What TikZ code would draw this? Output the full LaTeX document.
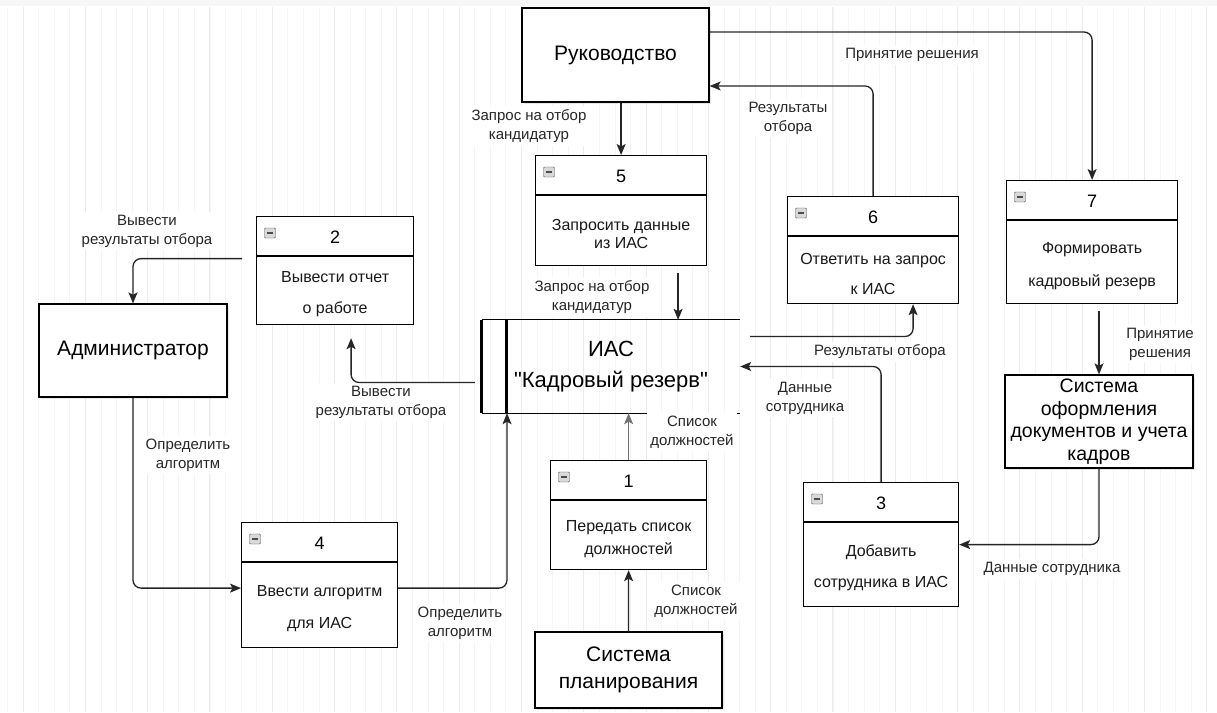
\documentclass[tikz,border=0pt]{standalone}
\usepackage{fontspec}
\setmainfont{Liberation Sans}
\newfontfamily\qfont{Liberation Sans}
\usetikzlibrary{arrows.meta, shadows}

\tikzset{
  flow/.style={draw=black!85, line width=1.3pt, rounded corners=8pt,
    -{Stealth[length=11pt, width=9pt, inset=2.5pt]}},
  lbl/.style={fill=white, align=center, inner sep=3pt, text=black!85,
    font=\fontsize{15}{19}\selectfont},
  ext/.style={draw, line width=1.3pt, fill=white, align=center,
    drop shadow={shadow xshift=2pt, shadow yshift=-2pt, fill=black!25, opacity=0.35}},
  proc/.style={draw, line width=1.2pt, fill=white, anchor=north west, inner sep=0pt},
  proctext/.style={align=center, font=\fontsize{16}{18}\selectfont, text=black!90},
  icon/.style={draw=gray!60!black, fill=gray!30, rounded corners=1pt, inner sep=0pt,
    minimum width=11pt, minimum height=10pt,
    path picture={\draw[line width=1.2pt] ([xshift=2.5pt]path picture bounding box.west)
      -- ([xshift=-2.5pt]path picture bounding box.east);}},
}

\begin{document}
\begin{tikzpicture}[x=1pt, y=-1pt]
  \useasboundingbox (0,0) rectangle (1217,712);
  % background grid
  \fill[white] (0,0) rectangle (1217,712);
  \fill[gray!6] (0,0) rectangle (1217,6);
  \draw[gray!8, line width=0.7pt, shift={(23,24)}, step=15.575] (-16,-17) grid (1194,688);
  \draw[gray!16, line width=0.9pt, shift={(23,24)}, step=62.3] (-16,-17) grid (1194,688);

  % external entities
  \node[ext, minimum width=187pt, minimum height=94pt, font=\fontsize{21}{24}\selectfont]
    (ruk) at (615.5,55) {Руководство};
  \node[ext, minimum width=188pt, minimum height=93pt, font=\fontsize{21}{24}\selectfont]
    (adm) at (133,350.5) {Администратор};
  \node[ext, minimum width=188pt, minimum height=93pt, font=\fontsize{19.5}{22.5}\selectfont]
    (sys) at (1099,421.5) {Система\\оформления\\документов и учета\\кадров};
  \node[ext, minimum width=187pt, minimum height=76pt, font=\fontsize{21}{27}\selectfont]
    (plan) at (628.5,670) {Система\\планирования};

  % data store
  \node[minimum width=258pt, minimum height=93pt, align=center,
        font=\fontsize{22}{24}\selectfont] (ias) at (611,366.5)
        {ИАС\\[7pt]{\qfont"}Кадровый резерв{\qfont"}};
  \draw[line width=1.3pt] (ias.north west) -- (ias.north east);
  \draw[line width=1.3pt] (ias.south west) -- (ias.south east);
  \draw[line width=3pt] (ias.north west) -- (ias.south west);
  \draw[line width=3pt] ([xshift=25pt]ias.north west) -- ([xshift=25pt]ias.south west);

  % processes
  \foreach \nm/\x/\y/\w/\h/\num/\txt in {
      b5/535/155/171/110/5/{Запросить данные\\из ИАС},
      b2/256/216/157/108/2/{Вывести отчет\\[13pt]о работе},
      b6/787/196/171/107/6/{Ответить на запрос\\[12pt]к ИАС},
      b7/1006/180/171/123/7/{Формировать\\[15pt]кадровый резерв},
      b3/803/482/155/124/3/{Добавить\\[13pt]сотрудника в ИАС},
      b4/241/522/156/125/4/{Ввести алгоритм\\[14pt]для ИАС},
      b1/550/460/156/109/1/{Передать список\\[5pt]должностей}} {
    \node[proc, minimum width=\w pt, minimum height=\h pt] (\nm) at (\x,\y) {};
    \draw[line width=1.2pt] ([yshift=-40pt]\nm.north west) -- ([yshift=-40pt]\nm.north east);
    \node[font=\fontsize{18}{20}\selectfont] (\nm-num) at ([yshift=-21pt]\nm.north) {\num};
    \node[icon] (\nm-icon) at ([xshift=14pt,yshift=-17pt]\nm.north west) {};
    \node[proctext] (\nm-txt) at ([yshift={(\h-40)/2-3}]\nm.south) {\txt};
  }

  % flow labels
  \node[lbl] (lzap1) at (529,126) {Запрос на отбор\\кандидатур};
  \node[lbl] (lrez1) at (788,118) {Результаты\\отбора};
  \node[lbl] (lpri1) at (912,55) {Принятие решения};
  \node[lbl] (lvyv1) at (147,231) {Вывести\\результаты отбора};
  \node[lbl] (lzap2) at (592,297) {Запрос на отбор\\кандидатур};
  \node[lbl] (lrez2) at (880,352) {Результаты отбора};
  \node[lbl] (ldan1) at (805,398) {Данные\\сотрудника};
  \node[lbl] (lvyv2) at (381,402) {Вывести\\результаты отбора};
  \node[lbl] (lspi1) at (692,432) {Список\\должностей};
  \node[lbl] (lopr1) at (188,455) {Определить\\алгоритм};
  \node[lbl] (lpri2) at (1160,344) {Принятие\\решения};
  \node[lbl] (ldan2) at (1052,569) {Данные сотрудника};
  \node[lbl] (lopr2) at (460,623) {Определить\\алгоритм};
  \node[lbl] (lspi2) at (696,601) {Список\\должностей};

  % flows
  \coordinate (p5) at ([xshift=57pt]b5.south);
  \draw[flow] (ruk.south -| b5.north) -- (b5.north);
  \draw[flow] ([yshift=23pt]ruk.east) -| (b7.north);
  \draw[flow] (b6.north) |- ([yshift=-31pt]ruk.east);
  \draw[flow] (p5) ++(0,7) -- (p5 |- ias.north);
  \draw[flow] ([xshift=10pt,yshift=30pt]ias.east) -| ([xshift=40pt]b6.south);
  \draw[flow] (b3.north) |- (ias.east);
  \draw[flow] ([xshift=-7pt,yshift=-16pt]ias.west) -| ([xshift=16pt,yshift=-13pt]b2.south);
  \draw[flow] ([xshift=-14pt,yshift=12pt]b2.west) -| (adm.north);
  \draw[flow] (adm.south) |- ([yshift=-3pt]b4.west);
  \draw[flow] ([yshift=-3pt]b4.east) -| ([xshift=-104pt]ias.south);
  \draw[flow, draw=black!55] (b1.north) -- (b1.north |- ias.south);
  \draw[flow] (plan.north) -- (b1.south);
  \draw[flow] (sys.north |- b7.south) ++(0,7) -- (sys.north);
  \draw[flow] (sys.south) |- (b3.east);
\end{tikzpicture}
\end{document}
